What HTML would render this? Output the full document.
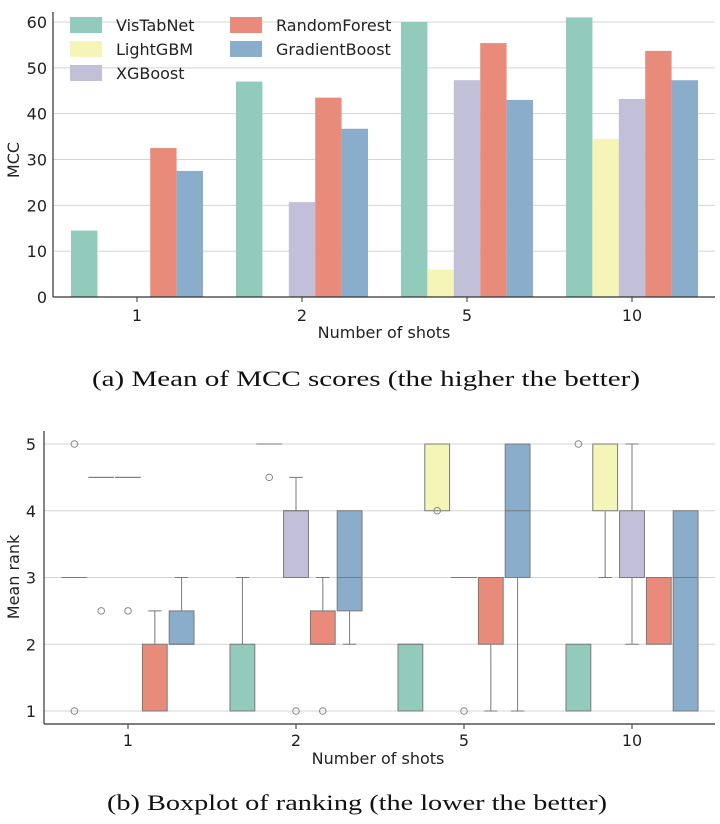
<!DOCTYPE html>
<html><head><meta charset="utf-8"><style>
body{margin:0;background:#fff;width:720px;height:819px;overflow:hidden}
svg text{font-family:"DejaVu Sans","Liberation Sans",sans-serif;fill:#222}
.cap{font-family:"Liberation Serif",serif;font-size:22px;fill:#111}
</style></head><body>
<svg id="s" width="720" height="819">
<text class="cap" x="92" y="386" textLength="548" lengthAdjust="spacingAndGlyphs">(a) Mean of MCC scores (the higher the better)</text>
<text class="cap" x="107" y="810" textLength="500" lengthAdjust="spacingAndGlyphs">(b) Boxplot of ranking (the lower the better)</text>
</svg>
<script>
const categories=["1","2","5","10"];
const series=["VisTabNet","LightGBM","XGBoost","RandomForest","GradientBoost"];
const colors=["#92cbbb","#f5f5b8","#c2bfd8","#e88b7b","#89adcb"];
const visTabNet=[14.5,47,60,61];
const lightGBM=[0,0,6,34.5];
const xgBoost=[0,20.7,47.3,43.2];
const randomForest=[32.5,43.5,55.4,53.7];
const gradientBoost=[27.5,36.7,43,47.3];
const mccTicks=[0,10,20,30,40,50,60];
const rankTicks=[1,2,3,4,5];
// boxes: [q1,q3,median,whisLo,whisHi,fliers] per category per series
const boxes=[
 [[3,3,3,3,3,[5,1]],[4.5,4.5,4.5,4.5,4.5,[2.5]],[4.5,4.5,4.5,4.5,4.5,[2.5]],[1,2,1,1,2.5,[]],[2,2.5,2,2,3,[]]],
 [[1,2,1,1,3,[]],[5,5,5,5,5,[4.5]],[3,4,4,3,4.5,[1]],[2,2.5,2,2,3,[1]],[2.5,4,3,2,4,[]]],
 [[1,2,2,1,2,[]],[4,5,5,4,5,[4]],[3,3,3,3,3,[1]],[2,3,3,1,3,[]],[3,5,4,1,5,[]]],
 [[1,2,1,1,2,[5]],[4,5,5,3,5,[]],[3,4,3,2,5,[]],[2,3,3,2,3,[]],[1,4,3,1,4,[]]]
];
const NS="http://www.w3.org/2000/svg",svg=document.getElementById('s');
function mk(t,a,p){const e=document.createElementNS(NS,t);for(const k in a)e.setAttribute(k,a[k]);(p||svg).appendChild(e);return e;}
function txt(s,a){const e=mk('text',a);e.textContent=s;return e;}
// ---- chart A
const A={l:53,r:715,b:297,t:22,max:60,c0:137,step:165,bw:26.4};
const yA=v=>A.b-(v/A.max)*(A.b-A.t);
const xA=(ci,si)=>A.c0+ci*A.step+(si-2)*A.bw;
const gA=mk('g',{});

mccTicks.forEach(v=>{const l=mk('line',{x1:A.l,x2:A.r,y1:yA(v),y2:yA(v),stroke:'#d4d4d4','stroke-width':1},gA);

const t=txt(v,{x:A.l-6,y:yA(v)+6,'text-anchor':'end','font-size':16});
});
const vals=[visTabNet,lightGBM,xgBoost,randomForest,gradientBoost];
vals.forEach((arr,si)=>arr.forEach((v,ci)=>{if(v<=0)return;
const r=mk('rect',{x:xA(ci,si)-A.bw/2,y:yA(v),width:A.bw,height:yA(0)-yA(v),fill:colors[si]},gA);
}));
mk('line',{x1:A.l,x2:A.r,y1:A.b,y2:A.b,stroke:'#333','stroke-width':1.2});
mk('line',{x1:A.l,x2:A.l,y1:A.b,y2:12,stroke:'#333','stroke-width':1.2});
categories.forEach((c,ci)=>{const x=A.c0+ci*A.step;mk('line',{x1:x,x2:x,y1:A.b,y2:A.b+5,stroke:'#333'});
const t=txt(c,{x:x,y:A.b+24,'text-anchor':'middle','font-size':16});
});
let t1=txt('Number of shots',{x:384,y:338,'text-anchor':'middle','font-size':16});

let t2=txt('MCC',{x:0,y:0,'text-anchor':'middle','font-size':16,transform:'translate(19,160) rotate(-90)'});

// legend
series.forEach((s,i)=>{const col=i<3?0:1,row=i<3?i:i-3;const x=70+col*160,y=25+row*24;
const r=mk('rect',{x:x,y:y-8,width:32,height:16,fill:colors[i]});

const t=txt(s,{x:x+46,y:y+6,'font-size':16});
});
// ---- chart B
const B={l:44,r:715,b:724,y1:711,y5:444,c0:128,step:168,bw:26.8};
const yB=v=>B.y1-(v-1)*(B.y1-B.y5)/4;
const xB=(ci,si)=>B.c0+ci*B.step+(si-2)*B.bw;
const gB=mk('g',{});

rankTicks.forEach(v=>{const l=mk('line',{x1:B.l,x2:B.r,y1:yB(v),y2:yB(v),stroke:'#d4d4d4'},gB);

const t=txt(v,{x:B.l-8,y:yB(v)+6,'text-anchor':'end','font-size':16});
});
boxes.forEach((cat,ci)=>cat.forEach((b,si)=>{const [q1,q3,med,lo,hi,fl]=b;const cx=xB(ci,si),w=B.bw;
const g=mk('g',{},gB);
const st='#7a7a7a';
if(hi>q3){mk('line',{x1:cx,x2:cx,y1:yB(q3),y2:yB(hi),stroke:st},g);mk('line',{x1:cx-w/4,x2:cx+w/4,y1:yB(hi),y2:yB(hi),stroke:st},g);}
if(lo<q1){mk('line',{x1:cx,x2:cx,y1:yB(q1),y2:yB(lo),stroke:st},g);mk('line',{x1:cx-w/4,x2:cx+w/4,y1:yB(lo),y2:yB(lo),stroke:st},g);}
mk('rect',{x:cx-w/2+1,y:yB(q3),width:w-2,height:Math.max(yB(q1)-yB(q3),0.01),fill:colors[si],stroke:st},g);
mk('line',{x1:cx-w/2+1,x2:cx+w/2-1,y1:yB(med),y2:yB(med),stroke:st},g);
fl.forEach(f=>mk('circle',{cx:cx,cy:yB(f),r:3.3,fill:'none',stroke:'#888'},g));}));
mk('line',{x1:B.l,x2:B.r,y1:B.b,y2:B.b,stroke:'#333','stroke-width':1.2});
mk('line',{x1:B.l,x2:B.l,y1:B.b,y2:431,stroke:'#333','stroke-width':1.2});
categories.forEach((c,ci)=>{const x=B.c0+ci*B.step;mk('line',{x1:x,x2:x,y1:B.b,y2:B.b+5,stroke:'#333'});
const t=txt(c,{x:x,y:B.b+22,'text-anchor':'middle','font-size':16});
});
let t3=txt('Number of shots',{x:378,y:764,'text-anchor':'middle','font-size':16});

let t4=txt('Mean rank',{x:0,y:0,'text-anchor':'middle','font-size':16,transform:'translate(19,577) rotate(-90)'});

</script>
</body></html>
